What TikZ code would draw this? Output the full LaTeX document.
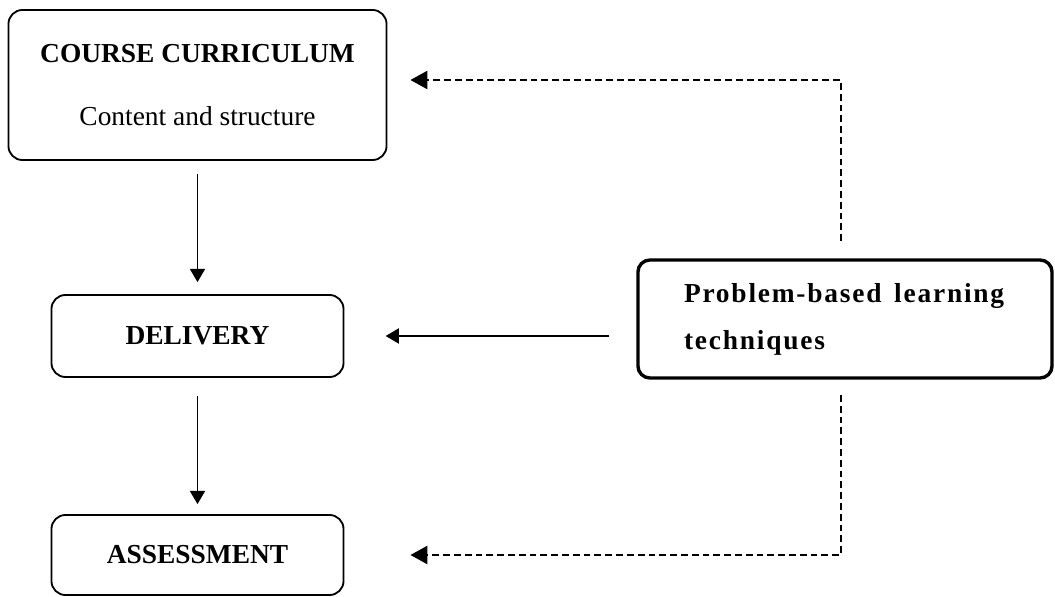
\documentclass[tikz,border=0pt]{standalone}
\usepackage{fontspec}
\setmainfont{Liberation Serif}
\usetikzlibrary{arrows.meta}

\begin{document}
\begin{tikzpicture}[x=0.025cm,y=-0.025cm,
  font=\fontsize{19.5}{24}\selectfont,
  box/.style={draw,rounded corners=0.35cm,line width=1.3pt,align=center,inner sep=0pt},
  bigbox/.style={draw,rounded corners=0.3cm,line width=2.4pt,align=left,inner sep=0pt},
  link/.style={line width=0.9pt,-{Triangle[length=0.33cm,width=0.38cm]}},
  feedback/.style={line width=1.5pt,dash pattern=on 0.17cm off 0.1cm,
    -{Triangle[length=0.42cm,width=0.45cm]}}]

%fix the page
  \useasboundingbox (0,0) rectangle (1055,597);

%draw boxes
  \node[box,minimum width=9.45cm,minimum height=3.75cm] (course) at (197.5,85)
    {\textbf{COURSE CURRICULUM}\\[20.8pt] Content and structure};
  \node[box,minimum width=7.3cm,minimum height=2.05cm] (delivery) at (197.5,336)
    {\textbf{DELIVERY}};
  \node[box,minimum width=7.3cm,minimum height=2cm] (assess) at (197.5,555)
    {\textbf{ASSESSMENT}};
  \node[bigbox,minimum width=10.35cm,minimum height=2.95cm] (pbl) at (845,319)
    {\addfontfeatures{LetterSpace=6.5}\textbf{Problem-based\hspace{0.1cm} learning}\\[9.3pt]
     \addfontfeatures{LetterSpace=6.5}\textbf{techniques}};

%free ends of the dashed lines
  \coordinate (dtop) at (841,241);
  \coordinate (dbot) at (841,395);

%draw arrows
  \draw[link,shorten <=0.33cm,shorten >=0.3cm] (course) -- (delivery);
  \draw[link,shorten <=0.45cm,shorten >=0.25cm] (delivery) -- (assess);
  \draw[link,shorten <=0.675cm,shorten >=1.03cm] (pbl.west |- delivery.east) -- (delivery.east);

%%draw dashed feedback
  \draw[feedback,shorten >=0.575cm] (dtop) |- ([yshift=0.125cm]course.east);
  \draw[feedback,shorten >=1.65cm] (dbot) |- (assess.east);

\end{tikzpicture}
\end{document}
